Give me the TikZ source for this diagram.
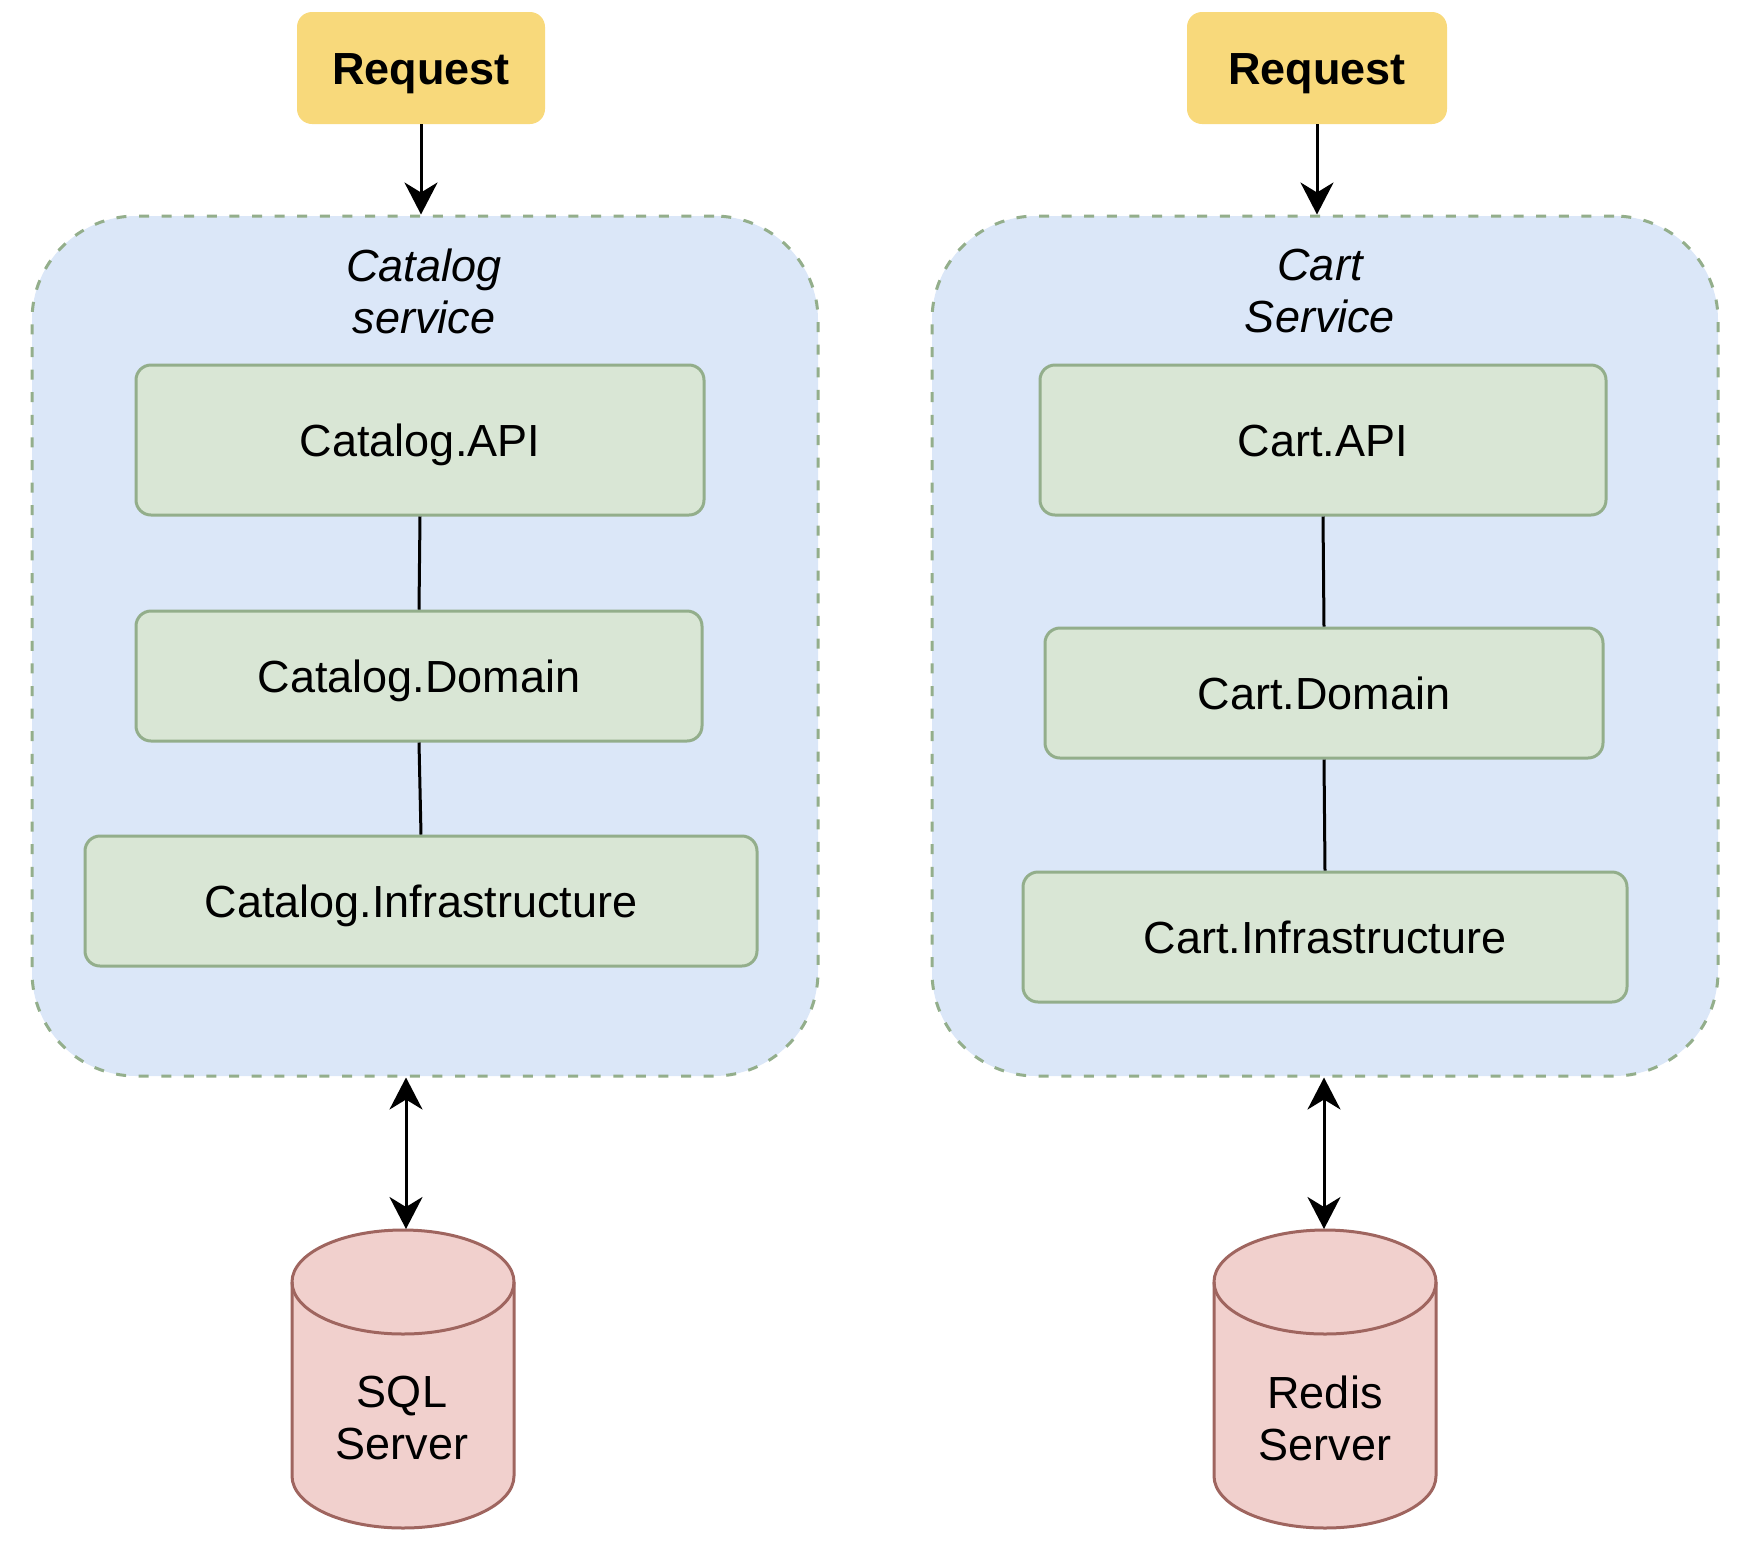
\documentclass[tikz,border=0pt]{standalone}
\usepackage{fontspec}
\setmainfont{Liberation Sans}
\usetikzlibrary{arrows.meta}

\definecolor{reqYellow}{HTML}{F8D97B}
\definecolor{svcBlue}{HTML}{DBE7F8}
\definecolor{layerGreen}{HTML}{D9E6D5}
\definecolor{layerLine}{HTML}{93AE8B}
\definecolor{dbRed}{HTML}{F1D0CD}
\definecolor{dbLine}{HTML}{9F655F}

\newcommand{\diagfont}{\fontsize{22.5}{26}\selectfont}

\tikzset{
    request/.style={fill=reqYellow, rounded corners=7.5pt, minimum height=56pt,
        text height=16.1pt, text depth=0pt, font=\diagfont\bfseries},
    service/.style={draw=layerLine, fill=svcBlue, line width=1.5pt,
        dash pattern=on 5pt off 6.3pt, rounded corners=52pt,
        minimum width=393pt, minimum height=430pt},
    svctitle/.style={align=center, font=\diagfont\itshape},
    layer/.style={draw=layerLine, fill=layerGreen, line width=1.5pt,
        rounded corners=7.5pt, text height=16.1pt, text depth=0pt, font=\diagfont},
    database/.style={draw=dbLine, fill=dbRed, line width=1.5pt},
    dbtext/.style={align=center, font=\diagfont},
    flow/.style={-{Stealth[length=16pt, width=16.5pt, inset=5pt]}, line width=1.5pt},
    sync/.style={{Stealth[length=16pt, width=16.5pt, inset=5pt]}-{Stealth[length=16pt, width=16.5pt, inset=5pt]}, line width=1.5pt},
    link/.style={line width=1.5pt},
}

\begin{document}
\begin{tikzpicture}[x=0.5pt, y=-0.5pt]

    \useasboundingbox (0,0) rectangle (1747,1554);

    % ===== Catalog service =====
    \node[request, minimum width=124pt] (reqCat) at (421,68) {Request};
    \node[service] (catSvc) at (425,646) {};
    \node[svctitle] (catTitle) at (424,291) {Catalog\\service};
    \node[layer, minimum width=284pt, minimum height=75pt] (catApi) at (420,440) {Catalog.API};
    \node[layer, minimum width=283pt, minimum height=65pt] (catDom) at (419,676) {Catalog.Domain};
    \node[layer, minimum width=336pt, minimum height=65pt] (catInf) at (421,901) {Catalog.Infrastructure};

    % ===== Cart service =====
    \node[request, minimum width=130pt] (reqCart) at (1317,68) {Request};
    \node[service] (cartSvc) at (1325,646) {};
    \node[svctitle] (cartTitle) at (1320,291) {Cart\\Service};
    \node[layer, minimum width=283pt, minimum height=75pt] (cartApi) at (1323,440) {Cart.API};
    \node[layer, minimum width=279pt, minimum height=65pt] (cartDom) at (1324,693) {Cart.Domain};
    \node[layer, minimum width=302pt, minimum height=65pt] (cartInf) at (1325,937) {Cart.Infrastructure};

    % ===== Databases (cylinders) =====
    \foreach \db/\cx/\tx in {sql/403/406, redis/1325/1324} {
        \filldraw[database] (\cx-111,1282) -- (\cx-111,1476)
            arc[start angle=180, end angle=360, x radius=55.5pt, y radius=26pt]
            -- (\cx+111,1282)
            arc[start angle=0, end angle=180, x radius=55.5pt, y radius=26pt] -- cycle;
        \draw[database, fill=none] (\cx-111,1282)
            arc[start angle=180, end angle=360, x radius=55.5pt, y radius=26pt];
        \coordinate (\db Top) at (\tx,1229);
    }
    \node[dbtext] (sqlText) at (402,1418) {SQL\\Server};
    \node[dbtext] (redisText) at (1325,1418) {Redis\\Server};

    % ===== Connectors =====
    \draw[flow] (reqCat.south) -- (reqCat.south |- catSvc.north);
    \draw[flow] (reqCart.south) -- (reqCart.south |- cartSvc.north);
    \draw[link] (catApi.south) -- (catDom.north);
    \draw[link] (catDom.south) -- (catInf.north);
    \draw[link] (cartApi.south) -- (cartDom.north);
    \draw[link] (cartDom.south) -- (cartInf.north);
    \draw[sync] (sqlTop |- catSvc.south) -- (sqlTop);
    \draw[sync] (redisTop |- cartSvc.south) -- (redisTop);

\end{tikzpicture}
\end{document}
